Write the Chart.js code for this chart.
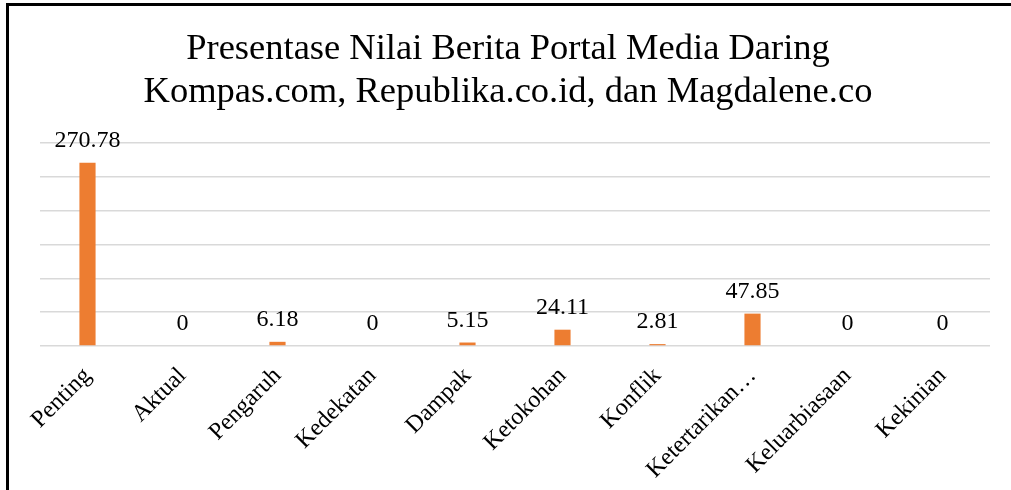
<!DOCTYPE html>
<html>
<head>
<meta charset="utf-8">
<script src="https://cdn.jsdelivr.net/npm/chart.js@4"></script>
<style>
  html, body { margin: 0; padding: 0; background: #fff; }
  #wrap { position: absolute; left: 0; top: 0; width: 1011px; height: 490px; }
  #frame { position: absolute; left: 6px; top: 3px; width: 1011px; height: 490px;
           border-left: 3px solid #000; border-top: 3px solid #000; box-sizing: border-box; }
</style>
</head>
<body>
<div id="wrap"><canvas id="chart" width="1011" height="490"></canvas></div>
<div id="frame"></div>
<script>
/* data */
var categories = ['Penting', 'Aktual', 'Pengaruh', 'Kedekatan', 'Dampak',
                  'Ketokohan', 'Konflik', 'Ketertarikan…', 'Keluarbiasaan', 'Kekinian'];
var nilai = [270.78, 0, 6.18, 0, 5.15, 24.11, 2.81, 47.85, 0, 0];
var yTicks = [0, 50, 100, 150, 200, 250, 300];
var titleLines = ['Presentase Nilai Berita Portal Media Daring',
                  'Kompas.com, Republika.co.id, dan Magdalene.co'];

var serif = '"Liberation Serif", "Times New Roman", serif';

/* label angka di atas batang (value labels above bars) */
var valueLabels = {
    id: 'valueLabels',
    afterDatasetsDraw: function (chart) {
        var ctx = chart.ctx;
        var meta = chart.getDatasetMeta(0);
        ctx.save();
        ctx.font = '24px ' + serif;
        ctx.fillStyle = '#000';
        ctx.textAlign = 'center';
        ctx.textBaseline = 'alphabetic';
        meta.data.forEach(function (bar, i) {
            ctx.fillText(String(nilai[i]), bar.x, bar.y - 16);
        });
        ctx.restore();
    }
};

new Chart(document.getElementById('chart').getContext('2d'), {
    type: 'bar',
    data: {
        labels: categories,
        datasets: [{
            data: nilai,
            backgroundColor: '#ED7D31',
            borderWidth: 0,
            barPercentage: 0.17,
            categoryPercentage: 1
        }]
    },
    options: {
        responsive: false,
        animation: false,
        layout: { padding: { left: 26, right: 21, top: 0, bottom: 0 } },
        plugins: {
            legend: { display: false },
            tooltip: { enabled: false },
            title: {
                display: true,
                text: titleLines,
                color: '#000',
                font: { family: serif, size: 36.5, weight: 'normal', lineHeight: 1.17 },
                padding: { top: 28, bottom: 29.6 }
            }
        },
        scales: {
            x: {
                grid: { display: false },
                border: { display: false },
                ticks: {
                    color: '#000',
                    font: { family: serif, size: 24 },
                    maxRotation: 45,
                    minRotation: 45,
                    autoSkip: false,
                    padding: 8
                },
                afterFit: function (scale) { scale.height = 144; }
            },
            y: {
                min: 0,
                max: 300,
                afterBuildTicks: function (scale) {
                    scale.ticks = yTicks.map(function (v) { return { value: v }; });
                },
                ticks: { display: false },
                grid: { color: '#d9d9d9', lineWidth: 1.5, drawTicks: false },
                border: { display: false },
                afterFit: function (scale) { scale.width = 14; }
            }
        }
    },
    plugins: [valueLabels]
});
</script>
</body>
</html>
